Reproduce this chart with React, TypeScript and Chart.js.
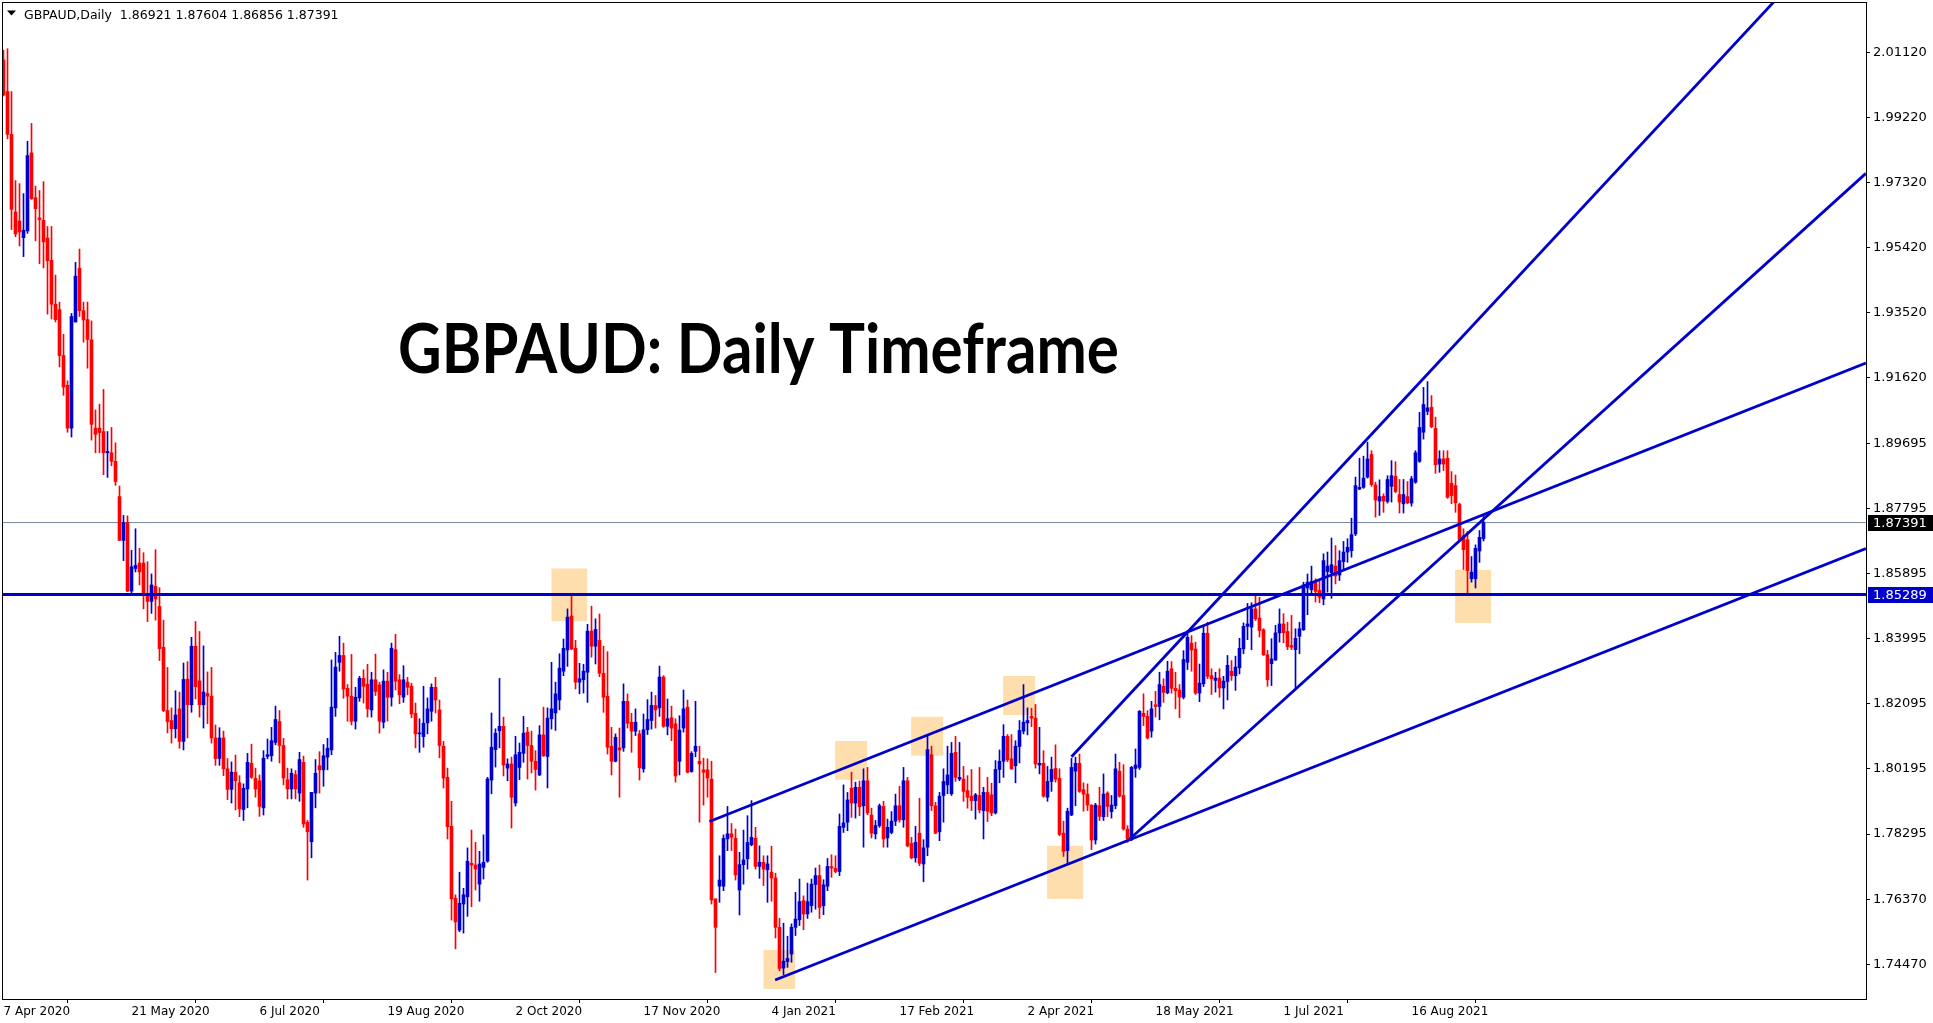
import React, { useEffect, useRef } from 'react';
import { Chart, registerables } from 'chart.js';

Chart.register(...registerables);

// ---------- data (daily bars, index 0 = 7 Apr 2020) ----------
const OPEN = [
  2.0090, 1.9998, 1.9873, 1.9646, 1.9620, 1.9571, 1.9591, 1.9819, 1.9688, 1.9629,
  1.9622, 1.9570, 1.9505, 1.9377, 1.9361, 1.9227, 1.9140, 1.9015, 1.9325, 1.9482,
  1.9358, 1.9332, 1.9273, 1.9015, 1.9015, 1.9005, 1.8943, 1.8943, 1.8918, 1.8815,
  1.8687, 1.8739, 1.8539, 1.8605, 1.8621, 1.8621, 1.8529, 1.8509, 1.8553, 1.8494,
  1.8375, 1.8190, 1.8161, 1.8137, 1.8195, 1.8100, 1.8282, 1.8207, 1.8378, 1.8277,
  1.8207, 1.8240, 1.8232, 1.8110, 1.8050, 1.8110, 1.8020, 1.7960, 1.8010, 1.7979,
  1.7901, 1.7961, 1.8036, 1.7992, 1.7985, 1.7906, 1.8056, 1.8058, 1.8097, 1.8158,
  1.8088, 1.7988, 1.7961, 1.8003, 1.7949, 1.8039, 1.7864, 1.7807, 1.7949, 1.8029,
  1.8017, 1.8054, 1.8075, 1.8198, 1.8331, 1.8351, 1.8255, 1.8232, 1.8159, 1.8227,
  1.8284, 1.8267, 1.8192, 1.8280, 1.8265, 1.8156, 1.8276, 1.8229, 1.8368, 1.8280,
  1.8229, 1.8273, 1.8261, 1.8182, 1.8122, 1.8114, 1.8154, 1.8188, 1.8258, 1.8192,
  1.8086, 1.7995, 1.7852, 1.7642, 1.7549, 1.7625, 1.7646, 1.7744, 1.7739, 1.7683,
  1.7732, 1.7750, 1.7987, 1.8076, 1.8131, 1.8144, 1.8022, 1.8034, 1.7920, 1.8024,
  1.8065, 1.8127, 1.8088, 1.8042, 1.8002, 1.8119, 1.8056, 1.8166, 1.8183, 1.8221,
  1.8305, 1.8367, 1.8466, 1.8372, 1.8273, 1.8280, 1.8302, 1.8422, 1.8378, 1.8395,
  1.8299, 1.8232, 1.8086, 1.8042, 1.8081, 1.8081, 1.8217, 1.8156, 1.8130, 1.8122,
  1.8020, 1.8134, 1.8161, 1.8205, 1.8198, 1.8288, 1.8144, 1.8169, 1.8151, 1.8042,
  1.8139, 1.8200, 1.8012, 1.8071, 1.8042, 1.8017, 1.8017, 1.7990, 1.7640, 1.7677,
  1.7677, 1.7815, 1.7830, 1.7817, 1.7666, 1.7740, 1.7757, 1.7798, 1.7817, 1.7735,
  1.7747, 1.7725, 1.7718, 1.7701, 1.7557, 1.7438, 1.7457, 1.7479, 1.7557, 1.7579,
  1.7635, 1.7596, 1.7620, 1.7682, 1.7708, 1.7620, 1.7677, 1.7734, 1.7729, 1.7720,
  1.7849, 1.7864, 1.7963, 1.7920, 1.7966, 1.7912, 1.7985, 1.7885, 1.7830, 1.7854,
  1.7910, 1.7818, 1.7834, 1.7867, 1.7912, 1.7871, 1.7985, 1.7802, 1.7760, 1.7832,
  1.7742, 1.7791, 1.8061, 1.7912, 1.7836, 1.7942, 1.7973, 1.7947, 1.8068, 1.7990,
  1.7990, 1.7956, 1.7940, 1.7927, 1.7942, 1.7898, 1.7951, 1.7944, 1.7891, 1.8018,
  1.8042, 1.8115, 1.8049, 1.8029, 1.8085, 1.8130, 1.8154, 1.8173, 1.8168, 1.8031,
  1.8036, 1.7937, 1.7983, 1.8021, 1.7992, 1.7832, 1.7781, 1.7885, 1.8013, 1.8036,
  1.7959, 1.7946, 1.7914, 1.7812, 1.7912, 1.7880, 1.7949, 1.7895, 1.7912, 1.8013,
  1.7942, 1.7844, 1.7815, 1.8021, 1.8024, 1.8182, 1.8173, 1.8130, 1.8207, 1.8202,
  1.8261, 1.8242, 1.8312, 1.8255, 1.8250, 1.8229, 1.8331, 1.8387, 1.8370, 1.8241,
  1.8268, 1.8416, 1.8292, 1.8278, 1.8285, 1.8256, 1.8275, 1.8305, 1.8292, 1.8315,
  1.8370, 1.8436, 1.8434, 1.8487, 1.8460, 1.8426, 1.8353, 1.8327, 1.8338, 1.8417,
  1.8443, 1.8421, 1.8380, 1.8368, 1.8407, 1.8426, 1.8548, 1.8543, 1.8565, 1.8541,
  1.8516, 1.8596, 1.8592, 1.8612, 1.8586, 1.8625, 1.8653, 1.8657, 1.8706, 1.8837,
  1.8842, 1.8872, 1.8938, 1.8849, 1.8802, 1.8816, 1.8801, 1.8845, 1.8874, 1.8821,
  1.8794, 1.8815, 1.8796, 1.8857, 1.8918, 1.9003, 1.9064, 1.9076, 1.9014, 1.8910,
  1.8925, 1.8927, 1.8854, 1.8847, 1.8792, 1.8701, 1.8689, 1.8575, 1.8575, 1.8656,
  1.86921,
];

const HIGH = [
  2.0119, 2.0123, 1.9998, 1.9738, 1.9729, 1.9700, 1.9853, 1.9905, 1.9722, 1.9709,
  1.9735, 1.9604, 1.9604, 1.9462, 1.9383, 1.9289, 1.9153, 1.9350, 1.9499, 1.9538,
  1.9383, 1.9383, 1.9328, 1.9068, 1.9085, 1.9128, 1.9005, 1.9017, 1.8972, 1.8846,
  1.8760, 1.8759, 1.8658, 1.8721, 1.8664, 1.8651, 1.8625, 1.8589, 1.8660, 1.8549,
  1.8454, 1.8316, 1.8198, 1.8248, 1.8244, 1.8329, 1.8333, 1.8404, 1.8450, 1.8421,
  1.8379, 1.8303, 1.8316, 1.8148, 1.8140, 1.8130, 1.8050, 1.8040, 1.8060, 1.8000,
  1.7976, 1.8065, 1.8092, 1.8022, 1.8002, 1.8073, 1.8107, 1.8141, 1.8203, 1.8190,
  1.8109, 1.8022, 1.8020, 1.8015, 1.8068, 1.8057, 1.7869, 1.7951, 1.8047, 1.8070,
  1.8091, 1.8109, 1.8338, 1.8360, 1.8407, 1.8387, 1.8266, 1.8354, 1.8258, 1.8290,
  1.8309, 1.8325, 1.8302, 1.8355, 1.8273, 1.8309, 1.8302, 1.8387, 1.8413, 1.8295,
  1.8321, 1.8287, 1.8270, 1.8212, 1.8166, 1.8261, 1.8227, 1.8268, 1.8287, 1.8221,
  1.8100, 1.8022, 1.7925, 1.7652, 1.7718, 1.7671, 1.7789, 1.7841, 1.7805, 1.7779,
  1.7827, 1.7995, 1.8183, 1.8137, 1.8284, 1.8171, 1.8049, 1.8054, 1.8115, 1.8095,
  1.8173, 1.8141, 1.8130, 1.8073, 1.8146, 1.8200, 1.8198, 1.8331, 1.8273, 1.8356,
  1.8399, 1.8487, 1.8529, 1.8395, 1.8328, 1.8325, 1.8442, 1.8495, 1.8458, 1.8472,
  1.8378, 1.8362, 1.8141, 1.8122, 1.8139, 1.8268, 1.8239, 1.8182, 1.8195, 1.8132,
  1.8180, 1.8222, 1.8244, 1.8234, 1.8320, 1.8292, 1.8224, 1.8203, 1.8166, 1.8175,
  1.8250, 1.8221, 1.8070, 1.8217, 1.8086, 1.8051, 1.8049, 1.8042, 1.7640, 1.7766,
  1.7827, 1.7910, 1.7860, 1.7844, 1.7776, 1.7841, 1.7883, 1.7927, 1.7849, 1.7795,
  1.7766, 1.7766, 1.7794, 1.7715, 1.7583, 1.7569, 1.7531, 1.7567, 1.7659, 1.7698,
  1.7649, 1.7686, 1.7698, 1.7730, 1.7739, 1.7696, 1.7758, 1.7769, 1.7766, 1.7888,
  1.7973, 1.7951, 1.8010, 1.7981, 1.7984, 1.8020, 1.8024, 1.7905, 1.7869, 1.7917,
  1.7925, 1.7873, 1.7895, 1.7946, 1.7969, 1.8024, 1.7995, 1.7820, 1.7852, 1.7934,
  1.7813, 1.8117, 1.8086, 1.7922, 1.7951, 1.8020, 1.8086, 1.8097, 1.8115, 1.8097,
  1.8027, 1.8000, 1.8018, 1.7948, 1.8024, 1.7966, 1.7995, 1.7978, 1.8044, 1.8075,
  1.8149, 1.8120, 1.8120, 1.8102, 1.8161, 1.8266, 1.8198, 1.8197, 1.8208, 1.8141,
  1.8073, 1.8027, 1.8054, 1.8090, 1.8020, 1.7867, 1.7905, 1.8051, 1.8054, 1.8063,
  1.7979, 1.7976, 1.7915, 1.7919, 1.7966, 1.8005, 1.7953, 1.7942, 1.8063, 1.8039,
  1.8032, 1.7854, 1.8027, 1.8078, 1.8190, 1.8239, 1.8190, 1.8217, 1.8246, 1.8302,
  1.8283, 1.8334, 1.8333, 1.8302, 1.8266, 1.8365, 1.8424, 1.8409, 1.8390, 1.8326,
  1.8434, 1.8448, 1.8312, 1.8302, 1.8312, 1.8290, 1.8351, 1.8336, 1.8349, 1.8401,
  1.8446, 1.8503, 1.8505, 1.8526, 1.8521, 1.8429, 1.8366, 1.8400, 1.8439, 1.8487,
  1.8473, 1.8448, 1.8468, 1.8429, 1.8448, 1.8565, 1.8589, 1.8612, 1.8575, 1.8570,
  1.8648, 1.8653, 1.8694, 1.8672, 1.8657, 1.8684, 1.8692, 1.8752, 1.8872, 1.8927,
  1.8933, 1.8974, 1.8949, 1.8857, 1.8864, 1.8823, 1.8876, 1.8920, 1.8917, 1.8865,
  1.8865, 1.8859, 1.8874, 1.8949, 1.9061, 1.9134, 1.9151, 1.9110, 1.9047, 1.8949,
  1.8949, 1.8949, 1.8888, 1.8878, 1.8796, 1.8721, 1.8713, 1.8640, 1.8674, 1.8716,
  1.87604,
];

const LOW = [
  1.9985, 1.9860, 1.9595, 1.9574, 1.9547, 1.9516, 1.9584, 1.9683, 1.9562, 1.9495,
  1.9483, 1.9348, 1.9334, 1.9325, 1.9194, 1.9111, 1.9003, 1.8989, 1.9325, 1.9341,
  1.9266, 1.9190, 1.8980, 1.8943, 1.8943, 1.8879, 1.8871, 1.8905, 1.8848, 1.8687,
  1.8628, 1.8537, 1.8530, 1.8595, 1.8557, 1.8487, 1.8450, 1.8474, 1.8454, 1.8336,
  1.8187, 1.8125, 1.8095, 1.8110, 1.8080, 1.8075, 1.8110, 1.8185, 1.8224, 1.8171,
  1.8139, 1.8152, 1.8095, 1.8030, 1.8030, 1.8000, 1.7930, 1.7920, 1.7900, 1.7880,
  1.7869, 1.7906, 1.7992, 1.7937, 1.7881, 1.7885, 1.8049, 1.8042, 1.8090, 1.8037,
  1.7973, 1.7932, 1.7932, 1.7932, 1.7925, 1.7849, 1.7695, 1.7760, 1.7906, 1.7949,
  1.7969, 1.8017, 1.8061, 1.8173, 1.8305, 1.8226, 1.8159, 1.8148, 1.8136, 1.8217,
  1.8212, 1.8171, 1.8171, 1.8234, 1.8124, 1.8139, 1.8159, 1.8203, 1.8250, 1.8210,
  1.8214, 1.8236, 1.8169, 1.8081, 1.8068, 1.8083, 1.8122, 1.8159, 1.8183, 1.8052,
  1.7964, 1.7815, 1.7578, 1.7494, 1.7544, 1.7540, 1.7589, 1.7617, 1.7666, 1.7633,
  1.7698, 1.7747, 1.7947, 1.8025, 1.8081, 1.7999, 1.7985, 1.7847, 1.7911, 1.7988,
  1.8039, 1.7990, 1.8008, 1.7958, 1.8000, 1.8056, 1.7964, 1.8136, 1.8132, 1.8192,
  1.8292, 1.8319, 1.8368, 1.8253, 1.8239, 1.8241, 1.8214, 1.8346, 1.8326, 1.8289,
  1.8185, 1.8063, 1.8002, 1.8040, 1.7937, 1.8071, 1.8139, 1.8068, 1.8117, 1.7987,
  1.8010, 1.8120, 1.8136, 1.8139, 1.8173, 1.8141, 1.8119, 1.8102, 1.7981, 1.8002,
  1.8127, 1.8008, 1.8010, 1.8055, 1.7864, 1.7914, 1.7937, 1.7625, 1.7425, 1.7630,
  1.7664, 1.7781, 1.7781, 1.7695, 1.7593, 1.7683, 1.7727, 1.7795, 1.7727, 1.7700,
  1.7679, 1.7630, 1.7633, 1.7526, 1.7430, 1.7419, 1.7440, 1.7455, 1.7533, 1.7562,
  1.7550, 1.7583, 1.7601, 1.7610, 1.7583, 1.7594, 1.7664, 1.7703, 1.7716, 1.7708,
  1.7834, 1.7839, 1.7878, 1.7876, 1.7883, 1.7791, 1.7886, 1.7818, 1.7815, 1.7849,
  1.7791, 1.7791, 1.7830, 1.7854, 1.7864, 1.7849, 1.7792, 1.7757, 1.7747, 1.7737,
  1.7690, 1.7766, 1.7898, 1.7830, 1.7810, 1.7864, 1.7947, 1.7942, 1.7983, 1.7985,
  1.7925, 1.7905, 1.7898, 1.7873, 1.7891, 1.7815, 1.7866, 1.7883, 1.7888, 1.7979,
  1.7995, 1.8041, 1.8018, 1.7979, 1.8037, 1.8122, 1.8119, 1.8143, 1.8022, 1.8005,
  1.7937, 1.7925, 1.7954, 1.7981, 1.7825, 1.7764, 1.7742, 1.7883, 1.7912, 1.7951,
  1.7896, 1.7898, 1.7784, 1.7800, 1.7869, 1.7869, 1.7880, 1.7876, 1.7903, 1.7937,
  1.7841, 1.7805, 1.7810, 1.7995, 1.8018, 1.8146, 1.8107, 1.8112, 1.8171, 1.8163,
  1.8214, 1.8239, 1.8241, 1.8195, 1.8169, 1.8224, 1.8310, 1.8305, 1.8237, 1.8216,
  1.8260, 1.8283, 1.8237, 1.8244, 1.8229, 1.8195, 1.8221, 1.8278, 1.8249, 1.8297,
  1.8356, 1.8397, 1.8368, 1.8453, 1.8405, 1.8351, 1.8261, 1.8263, 1.8336, 1.8390,
  1.8388, 1.8368, 1.8368, 1.8254, 1.8356, 1.8424, 1.8470, 1.8526, 1.8507, 1.8505,
  1.8499, 1.8536, 1.8518, 1.8560, 1.8570, 1.8604, 1.8623, 1.8638, 1.8701, 1.8835,
  1.8839, 1.8869, 1.8845, 1.8755, 1.8760, 1.8769, 1.8796, 1.8799, 1.8826, 1.8767,
  1.8767, 1.8794, 1.8787, 1.8854, 1.8915, 1.8983, 1.9054, 1.9016, 1.8883, 1.8886,
  1.8891, 1.8810, 1.8794, 1.8769, 1.8687, 1.8602, 1.8533, 1.8565, 1.8548, 1.8623,
  1.86856,
];

const CLOSE = [
  1.9988, 1.9873, 1.9654, 1.9582, 1.9588, 1.9593, 1.9811, 1.9685, 1.9656, 1.9624,
  1.9559, 1.9504, 1.9377, 1.9332, 1.9227, 1.9135, 1.9015, 1.9341, 1.9459, 1.9358,
  1.9331, 1.9274, 1.9026, 1.8997, 1.9002, 1.8943, 1.8947, 1.8918, 1.8859, 1.8687,
  1.8739, 1.8539, 1.8610, 1.8614, 1.8595, 1.8529, 1.8509, 1.8557, 1.8516, 1.8371,
  1.8190, 1.8158, 1.8137, 1.8177, 1.8100, 1.8281, 1.8207, 1.8378, 1.8260, 1.8207,
  1.8244, 1.8232, 1.8110, 1.8050, 1.8110, 1.8020, 1.7960, 1.8010, 1.7985, 1.7903,
  1.7963, 1.8039, 1.7995, 1.7961, 1.7910, 1.8051, 1.8061, 1.8102, 1.8164, 1.8088,
  1.7993, 1.7961, 1.8007, 1.7961, 1.8047, 1.7859, 1.7836, 1.7951, 1.8007, 1.8017,
  1.8058, 1.8080, 1.8200, 1.8317, 1.8351, 1.8253, 1.8232, 1.8159, 1.8229, 1.8284,
  1.8261, 1.8195, 1.8280, 1.8246, 1.8159, 1.8276, 1.8229, 1.8372, 1.8276, 1.8236,
  1.8280, 1.8258, 1.8180, 1.8122, 1.8124, 1.8153, 1.8195, 1.8258, 1.8221, 1.8088,
  1.7993, 1.7851, 1.7640, 1.7573, 1.7627, 1.7652, 1.7750, 1.7739, 1.7727, 1.7742,
  1.7747, 1.7990, 1.8083, 1.8124, 1.8144, 1.8031, 1.8034, 1.7937, 1.8061, 1.8068,
  1.8124, 1.8088, 1.8042, 1.8018, 1.8119, 1.8058, 1.8168, 1.8195, 1.8239, 1.8314,
  1.8372, 1.8463, 1.8370, 1.8273, 1.8283, 1.8305, 1.8422, 1.8378, 1.8427, 1.8299,
  1.8229, 1.8083, 1.8042, 1.8112, 1.8075, 1.8217, 1.8153, 1.8130, 1.8156, 1.8023,
  1.8134, 1.8164, 1.8205, 1.8192, 1.8288, 1.8144, 1.8166, 1.8139, 1.7999, 1.8133,
  1.8195, 1.8010, 1.8065, 1.8086, 1.8034, 1.8010, 1.7993, 1.7637, 1.7557, 1.7695,
  1.7817, 1.7830, 1.7820, 1.7710, 1.7740, 1.7754, 1.7805, 1.7820, 1.7735, 1.7747,
  1.7727, 1.7742, 1.7701, 1.7557, 1.7437, 1.7458, 1.7466, 1.7557, 1.7581, 1.7632,
  1.7596, 1.7632, 1.7683, 1.7708, 1.7615, 1.7681, 1.7735, 1.7730, 1.7720, 1.7852,
  1.7862, 1.7929, 1.7920, 1.7966, 1.7909, 1.7985, 1.7891, 1.7832, 1.7854, 1.7912,
  1.7815, 1.7849, 1.7867, 1.7912, 1.7871, 1.7985, 1.7795, 1.7760, 1.7805, 1.7744,
  1.7789, 1.8076, 1.7912, 1.7832, 1.7940, 1.7983, 1.8002, 1.8065, 1.7995, 1.7995,
  1.7954, 1.7937, 1.7927, 1.7944, 1.7900, 1.7951, 1.7896, 1.7891, 1.8018, 1.8042,
  1.8115, 1.8046, 1.8020, 1.8086, 1.8132, 1.8156, 1.8161, 1.8168, 1.8034, 1.8036,
  1.7940, 1.7983, 1.8018, 1.7990, 1.7828, 1.7779, 1.7896, 1.8024, 1.8036, 1.7954,
  1.7946, 1.7914, 1.7812, 1.7914, 1.7881, 1.7946, 1.7910, 1.7914, 1.8020, 1.7940,
  1.7844, 1.7815, 1.8024, 1.8031, 1.8188, 1.8173, 1.8110, 1.8195, 1.8202, 1.8266,
  1.8243, 1.8305, 1.8255, 1.8248, 1.8229, 1.8339, 1.8404, 1.8367, 1.8241, 1.8270,
  1.8416, 1.8290, 1.8283, 1.8285, 1.8256, 1.8276, 1.8322, 1.8292, 1.8317, 1.8372,
  1.8436, 1.8443, 1.8487, 1.8458, 1.8424, 1.8353, 1.8280, 1.8341, 1.8417, 1.8443,
  1.8417, 1.8377, 1.8375, 1.8401, 1.8429, 1.8557, 1.8565, 1.8567, 1.8538, 1.8521,
  1.8628, 1.8612, 1.8616, 1.8583, 1.8628, 1.8653, 1.8667, 1.8704, 1.8847, 1.8842,
  1.8869, 1.8925, 1.8850, 1.8805, 1.8815, 1.8802, 1.8865, 1.8876, 1.8830, 1.8799,
  1.8821, 1.8797, 1.8867, 1.8943, 1.9017, 1.9084, 1.9074, 1.9019, 1.8908, 1.8925,
  1.8910, 1.8813, 1.8818, 1.8797, 1.8689, 1.8660, 1.8599, 1.8594, 1.8664, 1.8696,
  1.87391,
];

const DATE_TICK_BARS = [0, 32, 64, 96, 128, 160, 192, 224, 256, 288, 320, 352];
const DATE_TICK_LABELS = [
  '7 Apr 2020', '21 May 2020', '6 Jul 2020', '19 Aug 2020', '2 Oct 2020', '17 Nov 2020',
  '4 Jan 2021', '17 Feb 2021', '2 Apr 2021', '18 May 2021', '1 Jul 2021', '16 Aug 2021',
];
const PRICE_TICKS = [
  2.0112, 1.9922, 1.9732, 1.9542, 1.9352, 1.9162, 1.89695, 1.87795, 1.85895,
  1.83995, 1.82095, 1.80195, 1.78295, 1.7637, 1.7447,
];

// trend lines: start (bar, price) -> end (bar, price)
const TREND_X0 = [192.9, 176.5, 267.0, 281.5];
const TREND_Y0 = [1.7403, 1.7866, 1.8055, 1.7814];
const TREND_X1 = [465.6, 465.6, 465.6, 465.6];
const TREND_Y1 = [1.8663, 1.9205, 2.0549, 1.9759];

const SUPPORT_LEVEL = 1.85289;
const LAST_PRICE = 1.87391;

// highlighted zones (bar range, price range)
const ZONE_X0 = [137.0, 207.9, 226.9, 190.0, 249.9, 260.9, 362.9];
const ZONE_X1 = [145.9, 215.9, 234.9, 197.9, 257.9, 269.9, 371.9];
const ZONE_LO = [1.8451, 1.7988, 1.8058, 1.7377, 1.8177, 1.7640, 1.8446];
const ZONE_HI = [1.8605, 1.8101, 1.8172, 1.7491, 1.8291, 1.7795, 1.8601];

const SYMBOL = 'GBPAUD,Daily';
const TITLE = 'GBPAUD: Daily Timeframe';

const X_MIN = -0.375;
const X_MAX = 465.625;
const Y_MIN = 1.73476;
const Y_MAX = 2.02596;

// ---------- styles ----------
const BULL = '#0000CD';
const BEAR = '#FF0000';
const LINE_BLUE = '#0000CD';
const ZONE_FILL = '#FFDEAD';
const GRAY = '#778899';
const AXIS_FONT = 'DejaVu Sans';

export default function App() {
  const ref = useRef<HTMLCanvasElement | null>(null);

  useEffect(() => {
    const canvas = ref.current;
    if (!canvas) return;
    const idx = OPEN.map((_, i) => i);
    const colors = idx.map((i) => (CLOSE[i] >= OPEN[i] ? BULL : BEAR));
    const bodies = idx.map((i) => ({ x: i, y: [OPEN[i], CLOSE[i]] }));
    const wicks = idx.map((i) => ({ x: i, y: [LOW[i], HIGH[i]] }));

    const trendSets = TREND_X0.map((x0, k) => ({
      type: 'line',
      data: [
        { x: x0, y: TREND_Y0[k] },
        { x: TREND_X1[k], y: TREND_Y1[k] },
      ],
      borderColor: LINE_BLUE,
      borderWidth: 2.8,
      pointRadius: 0,
      fill: false,
      tension: 0,
      order: 1,
    }));

    const zonesPlugin = {
      id: 'zones',
      beforeDatasetsDraw(chart: any) {
        const { ctx, chartArea, scales } = chart;
        ctx.save();
        ctx.beginPath();
        ctx.rect(chartArea.left, chartArea.top, chartArea.right - chartArea.left, chartArea.bottom - chartArea.top);
        ctx.clip();
        ctx.fillStyle = ZONE_FILL;
        ZONE_X0.forEach((x0, k) => {
          const a = scales.x.getPixelForValue(x0);
          const b = scales.x.getPixelForValue(ZONE_X1[k]);
          const t = scales.y.getPixelForValue(ZONE_HI[k]);
          const u = scales.y.getPixelForValue(ZONE_LO[k]);
          ctx.fillRect(a, t, b - a, u - t);
        });
        ctx.restore();
      },
    };

    const decorPlugin = {
      id: 'decor',
      afterDatasetsDraw(chart: any) {
        const { ctx } = chart;
        ctx.save();
        ctx.fillStyle = '#000';
        ctx.font = `bold 68px "Lato"`;
        ctx.textBaseline = 'alphabetic';
        const w = ctx.measureText(TITLE).width;
        ctx.translate(398, 373);
        ctx.scale(721 / w, 1);
        ctx.fillText(TITLE, 0, 0);
        ctx.restore();
      },
      afterDraw(chart: any) {
        const { ctx, chartArea, scales } = chart;
        ctx.save();
        // frame
        ctx.strokeStyle = '#000';
        ctx.lineWidth = 1;
        ctx.strokeRect(chartArea.left + 0.5, chartArea.top + 0.5, chartArea.right - chartArea.left, chartArea.bottom - chartArea.top);
        // header
        ctx.fillStyle = '#000';
        ctx.beginPath();
        ctx.moveTo(7, 10.5);
        ctx.lineTo(16, 10.5);
        ctx.lineTo(11.5, 15.5);
        ctx.closePath();
        ctx.fill();
        ctx.font = `12.5px "${AXIS_FONT}"`;
        ctx.textBaseline = 'alphabetic';
        ctx.textAlign = 'left';
        const n = OPEN.length - 1;
        const header = `${SYMBOL}  ${OPEN[n].toFixed(5)} ${HIGH[n].toFixed(5)} ${LOW[n].toFixed(5)} ${CLOSE[n].toFixed(5)}`;
        ctx.fillText(header, 24, 19);
        // price boxes
        const boxes: [number, string][] = [
          [LAST_PRICE, '#000000'],
          [SUPPORT_LEVEL, LINE_BLUE],
        ];
        ctx.font = `13px "${AXIS_FONT}"`;
        ctx.textBaseline = 'middle';
        boxes.forEach(([v, c]) => {
          const y = scales.y.getPixelForValue(v);
          ctx.fillStyle = c;
          ctx.fillRect(chartArea.right + 2, Math.round(y) - 8, 1933 - chartArea.right - 2, 16);
          ctx.fillStyle = '#fff';
          ctx.fillText(v.toFixed(5), chartArea.right + 7, Math.round(y) + 0.5);
        });
        ctx.restore();
      },
    };

    const chart = new Chart(canvas, {
      type: 'bar',
      data: {
        datasets: [
          {
            type: 'line',
            data: [
              { x: X_MIN, y: SUPPORT_LEVEL },
              { x: X_MAX, y: SUPPORT_LEVEL },
            ],
            borderColor: LINE_BLUE,
            borderWidth: 3,
            pointRadius: 0,
            fill: false,
            order: 0,
          },
          ...trendSets,
          {
            type: 'bar',
            data: bodies,
            backgroundColor: colors,
            borderWidth: 0,
            barThickness: 3,
            minBarLength: 1,
            grouped: false,
            order: 4,
          },
          {
            type: 'bar',
            data: wicks,
            backgroundColor: colors,
            borderWidth: 0,
            barThickness: 1,
            minBarLength: 1,
            grouped: false,
            order: 5,
          },
          {
            type: 'line',
            data: [
              { x: X_MIN, y: LAST_PRICE },
              { x: X_MAX, y: LAST_PRICE },
            ],
            borderColor: GRAY,
            borderWidth: 1,
            pointRadius: 0,
            fill: false,
            order: 10,
          },
        ] as any,
      },
      options: {
        responsive: false,
        maintainAspectRatio: false,
        animation: false,
        devicePixelRatio: 1,
        layout: { padding: { top: 2, left: 2, right: 0, bottom: 0 } },
        plugins: {
          legend: { display: false },
          tooltip: { enabled: false },
          title: { display: false },
        },
        scales: {
          x: {
            type: 'linear',
            min: X_MIN,
            max: X_MAX,
            offset: false,
            afterFit: (s: any) => {
              s.height = 24;
              s.paddingLeft = 0;
              s.paddingRight = 0;
              s.paddingTop = 0;
              s.paddingBottom = 0;
            },
            afterBuildTicks: (s: any) => {
              s.ticks = DATE_TICK_BARS.map((v) => ({ value: v }));
            },
            ticks: {
              autoSkip: false,
              maxRotation: 0,
              minRotation: 0,
              align: 'start',
              padding: 2,
              color: '#000',
              font: { family: AXIS_FONT, size: 12 },
              callback: (v: any) => {
                const k = DATE_TICK_BARS.indexOf(Number(v));
                return k >= 0 ? DATE_TICK_LABELS[k] : '';
              },
            },
            grid: {
              display: true,
              drawOnChartArea: false,
              drawTicks: true,
              tickLength: 4,
              color: '#000',
            },
            border: { display: true, color: '#000', width: 1 },
          },
          y: {
            type: 'linear',
            position: 'right',
            min: Y_MIN,
            max: Y_MAX,
            afterFit: (s: any) => {
              s.width = 67;
              s.paddingLeft = 0;
              s.paddingRight = 0;
              s.paddingTop = 0;
              s.paddingBottom = 0;
            },
            afterBuildTicks: (s: any) => {
              s.ticks = PRICE_TICKS.map((v) => ({ value: v }));
            },
            ticks: {
              padding: 3,
              color: '#000',
              font: { family: AXIS_FONT, size: 13 },
              callback: (v: any) => Number(v).toFixed(5),
            },
            grid: {
              display: true,
              drawOnChartArea: false,
              drawTicks: true,
              tickLength: 4,
              color: '#000',
            },
            border: { display: true, color: '#000', width: 1 },
          },
        },
      } as any,
      plugins: [zonesPlugin, decorPlugin],
    });

    return () => {
      chart.destroy();
    };
  }, []);

  return (
    <div
      style={{
        position: 'fixed',
        left: 0,
        top: 0,
        width: 1933,
        height: 1023,
        background: '#ffffff',
      }}
    >
      <canvas ref={ref} width={1933} height={1023} style={{ display: 'block', width: 1933, height: 1023 }} />
    </div>
  );
}
